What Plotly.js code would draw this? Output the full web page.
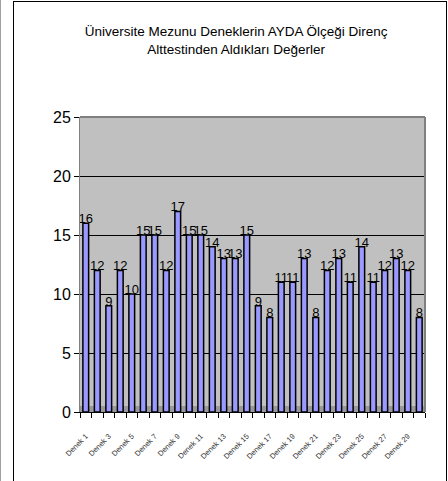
<!DOCTYPE html>
<html>
<head>
<meta charset="utf-8">
<script src="https://cdn.plot.ly/plotly-3.0.1.min.js"></script>
<style>
html,body{margin:0;padding:0;background:#fff;}
#wrap{position:relative;width:448px;height:481px;overflow:hidden;}
#chart{position:absolute;left:0;top:0;width:448px;height:481px;}
#lineL{position:absolute;left:0;top:0;width:1px;height:481px;background:#a0a0a0;pointer-events:none;}
#frame{position:absolute;left:13px;top:1px;width:432px;height:490px;border:1px solid #000;pointer-events:none;}
</style>
</head>
<body>
<div id="wrap">
<div id="chart"></div>
<div id="lineL"></div>
<div id="frame"></div>
</div>
<script>
const categories = ["Denek 1","Denek 2","Denek 3","Denek 4","Denek 5","Denek 6","Denek 7","Denek 8","Denek 9","Denek 10",
"Denek 11","Denek 12","Denek 13","Denek 14","Denek 15","Denek 16","Denek 17","Denek 18","Denek 19","Denek 20",
"Denek 21","Denek 22","Denek 23","Denek 24","Denek 25","Denek 26","Denek 27","Denek 28","Denek 29","Denek 30"];
const values = [16,12,9,12,10,15,15,12,17,15,15,14,13,13,15,9,8,11,11,13,8,12,13,11,14,11,12,13,12,8];
const tickLabels = categories.map((c,i)=> i%2===0 ? c : "");
const yTicks = [0,5,10,15,20,25];
const titleText = "Üniversite Mezunu Deneklerin AYDA Ölçeği Direnç<br>Alttestinden Aldıkları Değerler";

const FONT = "'Liberation Sans Narrow', 'Arial Narrow', 'Liberation Sans', Arial, sans-serif";

const bars = {
  type:'bar', x:categories, y:values,
  marker:{color:'#9999ff', line:{color:'#000', width:1.5}},
  width:0.5, hoverinfo:'none'
};
const labels = {
  type:'scatter', mode:'text', x:categories, y:values.map(v=>v+0.3),
  text:values.map(String), textposition:'middle center',
  textfont:{family:FONT, size:13, color:'#000'}, hoverinfo:'none', cliponaxis:false
};

const layout = {
  width:448, height:481,
  margin:{l:80, r:23, t:117, b:69},
  paper_bgcolor:'#fff', plot_bgcolor:'#c0c0c0',
  showlegend:false,
  title:{text:titleText, font:{family:FONT, size:13.5, color:'#000'}, x:0.527, xanchor:'center', y:0.925, yanchor:'top'},
  xaxis:{type:'category', tickmode:'array', tickvals:categories, ticktext:tickLabels,
    tickson:'boundaries', ticks:'outside', ticklen:5, tickcolor:'#000', tickangle:-45,
    tickfont:{family:FONT, size:7.5, color:'#333'}, ticklabelstandoff:16,
    showline:true, linecolor:'#000', linewidth:1, showgrid:false, zeroline:false, range:[-0.5,29.5], fixedrange:true},
  yaxis:{range:[0,25], tickvals:yTicks, ticks:'outside', ticklen:5, tickcolor:'#000',
    tickfont:{family:FONT, size:16, color:'#000'},
    showline:true, linecolor:'#808080', linewidth:1, showgrid:true, gridcolor:'#000', gridwidth:1, zeroline:false, fixedrange:true},
  shapes:[
    {type:'line', xref:'paper', yref:'paper', x0:0, x1:1, y0:1, y1:1, line:{color:'#808080', width:2}},
    {type:'line', xref:'paper', yref:'paper', x0:1, x1:1, y0:0, y1:1, line:{color:'#808080', width:2}},
    {type:'rect', xref:'paper', yref:'paper', x0:0, x1:1, y0:0, y1:0.02, fillcolor:'#999', line:{width:0}, layer:'below'}
  ]
};
Plotly.newPlot('chart', [bars, labels], layout, {displayModeBar:false, staticPlot:true});
</script>
</body>
</html>
